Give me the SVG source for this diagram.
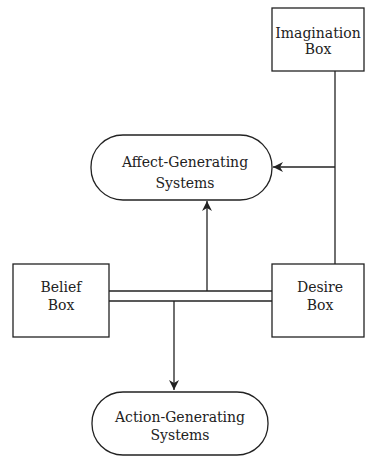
<svg xmlns="http://www.w3.org/2000/svg" width="365" height="456" viewBox="0 0 365 456">
<style>
.box{fill:#fff;stroke:#222;stroke-width:1.3}
.ln{fill:none;stroke:#222;stroke-width:1.3}
text{font-family:"DejaVu Serif",serif;font-size:14px;fill:#222;text-anchor:middle}
</style>
<defs>
<marker id="ah" viewBox="0 0 10 10" refX="10" refY="5" markerWidth="10" markerHeight="10" markerUnits="userSpaceOnUse" orient="auto">
<path d="M0,0 L10,5 L0,10 L3,5 Z" fill="#222"/>
</marker>
</defs>
<g id="connectors">
<line class="ln" x1="335" y1="71" x2="335" y2="264"/>
<line class="ln" x1="335" y1="167" x2="273" y2="167" marker-end="url(#ah)"/>
<line class="ln" x1="109" y1="291" x2="272" y2="291"/>
<line class="ln" x1="109" y1="301" x2="272" y2="301"/>
<line class="ln" x1="207" y1="291" x2="207" y2="201" marker-end="url(#ah)"/>
<line class="ln" x1="174" y1="301" x2="174" y2="390" marker-end="url(#ah)"/>
</g>
<g id="imagination">
<rect class="box" x="272" y="8" width="92" height="63"/>
<text x="318" y="38">Imagination</text>
<text x="318" y="54">Box</text>
</g>
<g id="affect">
<rect class="box" x="91" y="135" width="181" height="65" rx="32" ry="32"/>
<text x="185" y="167">Affect-Generating</text>
<text x="185" y="188">Systems</text>
</g>
<g id="belief">
<rect class="box" x="13" y="264" width="96" height="73"/>
<text x="61" y="292">Belief</text>
<text x="61" y="310">Box</text>
</g>
<g id="desire">
<rect class="box" x="272" y="264" width="92" height="73"/>
<text x="320" y="292">Desire</text>
<text x="320" y="310">Box</text>
</g>
<g id="action">
<rect class="box" x="92" y="392" width="176" height="63" rx="31" ry="31"/>
<text x="180" y="422">Action-Generating</text>
<text x="180" y="440">Systems</text>
</g>
</svg>
